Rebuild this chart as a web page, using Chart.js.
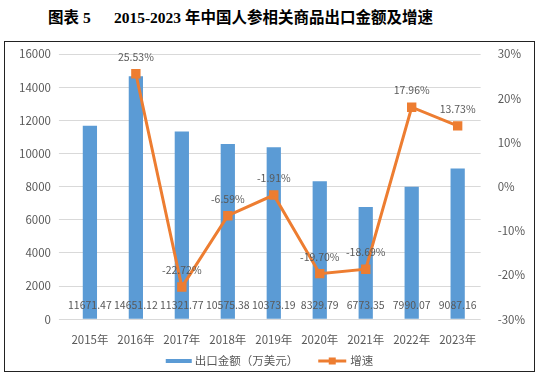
<!DOCTYPE html>
<html>
<head>
<meta charset="utf-8">
<script src="https://cdn.jsdelivr.net/npm/chart.js@4.4.0/dist/chart.umd.min.js"></script>
<style>
    body { margin: 0; background: #fff; width: 539px; height: 378px; position: relative; overflow: hidden; }
    #title { position: absolute; left: 48px; top: 5px; font: bold 15.5px "Liberation Serif", "Noto Sans CJK SC", serif; color: #000; white-space: pre; }
    #frame { position: absolute; left: 4px; top: 41px; width: 529px; height: 329px; border: 1px solid #222; }
    #chart { display: block; }
</style>
</head>
<body>
<div id="title">图表 5      2015-2023 年中国人参相关商品出口金额及增速</div>
<div id="frame"><canvas id="chart" width="529" height="329"></canvas></div>
<script>
const years = ["2015年", "2016年", "2017年", "2018年", "2019年", "2020年", "2021年", "2022年", "2023年"];
const amounts = [11671.47, 14651.12, 11321.77, 10575.38, 10373.19, 8329.79, 6773.35, 7990.07, 9087.16];
const growth = [null, 25.53, -22.72, -6.59, -1.91, -19.70, -18.69, 17.96, 13.73];
const leftTicks = [0, 2000, 4000, 6000, 8000, 10000, 12000, 14000, 16000];
const rightTicks = [-30, -20, -10, 0, 10, 20, 30];
const seriesNames = ["出口金额（万美元）", "增速"];

const blue = "#5B9BD5";
const orange = "#ED7D31";
const textGray = "#595959";
const fontFamily = "'Noto Sans CJK SC', sans-serif";

// value labels: amounts along the bottom, growth above each point
const valueLabels = {
    id: "valueLabels",
    afterDatasetsDraw(chart) {
        const ctx = chart.ctx;
        const area = chart.chartArea;
        ctx.save();
        ctx.font = "10.5px " + fontFamily;
        ctx.fillStyle = textGray;
        ctx.textAlign = "center";
        ctx.textBaseline = "middle";
        chart.getDatasetMeta(1).data.forEach((bar, i) => {
            ctx.fillText(amounts[i].toFixed(2), bar.x, area.bottom - 14);
        });
        chart.getDatasetMeta(0).data.forEach((pt, i) => {
            if (growth[i] === null) return;
            ctx.fillText(growth[i].toFixed(2) + "%", pt.x, pt.y - 17);
        });
        ctx.restore();
    }
};

// legend at the bottom, drawn by hand so it sits where the original does
const bottomLegend = {
    id: "bottomLegend",
    afterDraw(chart) {
        const ctx = chart.ctx;
        ctx.save();
        ctx.font = "11.5px " + fontFamily;
        ctx.textBaseline = "middle";
        ctx.fillStyle = textGray;
        const w1 = ctx.measureText(seriesNames[0]).width;
        const w2 = ctx.measureText(seriesNames[1]).width;
        const total = 26 + 3 + w1 + 20 + 28 + 4 + w2;
        let x = chart.width / 2 - total / 2;
        const y = chart.height - 10;

        ctx.fillStyle = blue;
        ctx.fillRect(x, y - 2, 26, 4);
        x += 29;
        ctx.fillStyle = textGray;
        ctx.fillText(seriesNames[0], x, y);
        x += w1 + 20;

        ctx.strokeStyle = orange;
        ctx.lineWidth = 3;
        ctx.beginPath();
        ctx.moveTo(x, y);
        ctx.lineTo(x + 28, y);
        ctx.stroke();
        ctx.fillStyle = orange;
        ctx.fillRect(x + 14 - 3.5, y - 3.5, 7, 7);
        x += 32;
        ctx.fillStyle = textGray;
        ctx.fillText(seriesNames[1], x, y);
        ctx.restore();
    }
};

// drop the half-label room Chart.js keeps above the top tick
const noTopPad = axis => { axis.paddingTop = 0; };

new Chart(document.getElementById("chart"), {
    data: {
        labels: years,
        datasets: [
            {
                type: "line",
                label: seriesNames[1],
                data: growth,
                yAxisID: "y1",
                borderColor: orange,
                backgroundColor: orange,
                borderWidth: 3,
                pointStyle: "rect",
                pointRadius: 4.5,
                pointHoverRadius: 4.5,
                tension: 0,
                order: 0
            },
            {
                type: "bar",
                label: seriesNames[0],
                data: amounts,
                yAxisID: "y",
                backgroundColor: blue,
                categoryPercentage: 1,
                barPercentage: 0.31,
                order: 1
            }
        ]
    },
    options: {
        responsive: false,
        animation: false,
        layout: { padding: { left: 6, right: 0, top: 12, bottom: 18 } },
        plugins: {
            legend: { display: false },
            tooltip: { enabled: false }
        },
        scales: {
            x: {
                grid: { display: false },
                border: { display: false },
                ticks: { color: textGray, font: { size: 11.5, family: fontFamily }, padding: 6 }
            },
            y: {
                position: "left",
                min: 0,
                max: 16000,
                afterBuildTicks: axis => { axis.ticks = leftTicks.map(v => ({ value: v })); },
                afterFit: noTopPad,
                grid: { color: "#D9D9D9" },
                border: { display: false },
                ticks: { color: textGray, font: { size: 11.5, family: fontFamily }, padding: 8, callback: v => String(v) }
            },
            y1: {
                position: "right",
                min: -30,
                max: 30,
                afterBuildTicks: axis => { axis.ticks = rightTicks.map(v => ({ value: v })); },
                afterFit: noTopPad,
                grid: { display: false },
                border: { display: false },
                ticks: {
                    color: textGray,
                    font: { size: 11.5, family: fontFamily },
                    padding: 9,
                    callback: v => v + "%"
                }
            }
        }
    },
    plugins: [valueLabels, bottomLegend]
});
</script>
</body>
</html>
